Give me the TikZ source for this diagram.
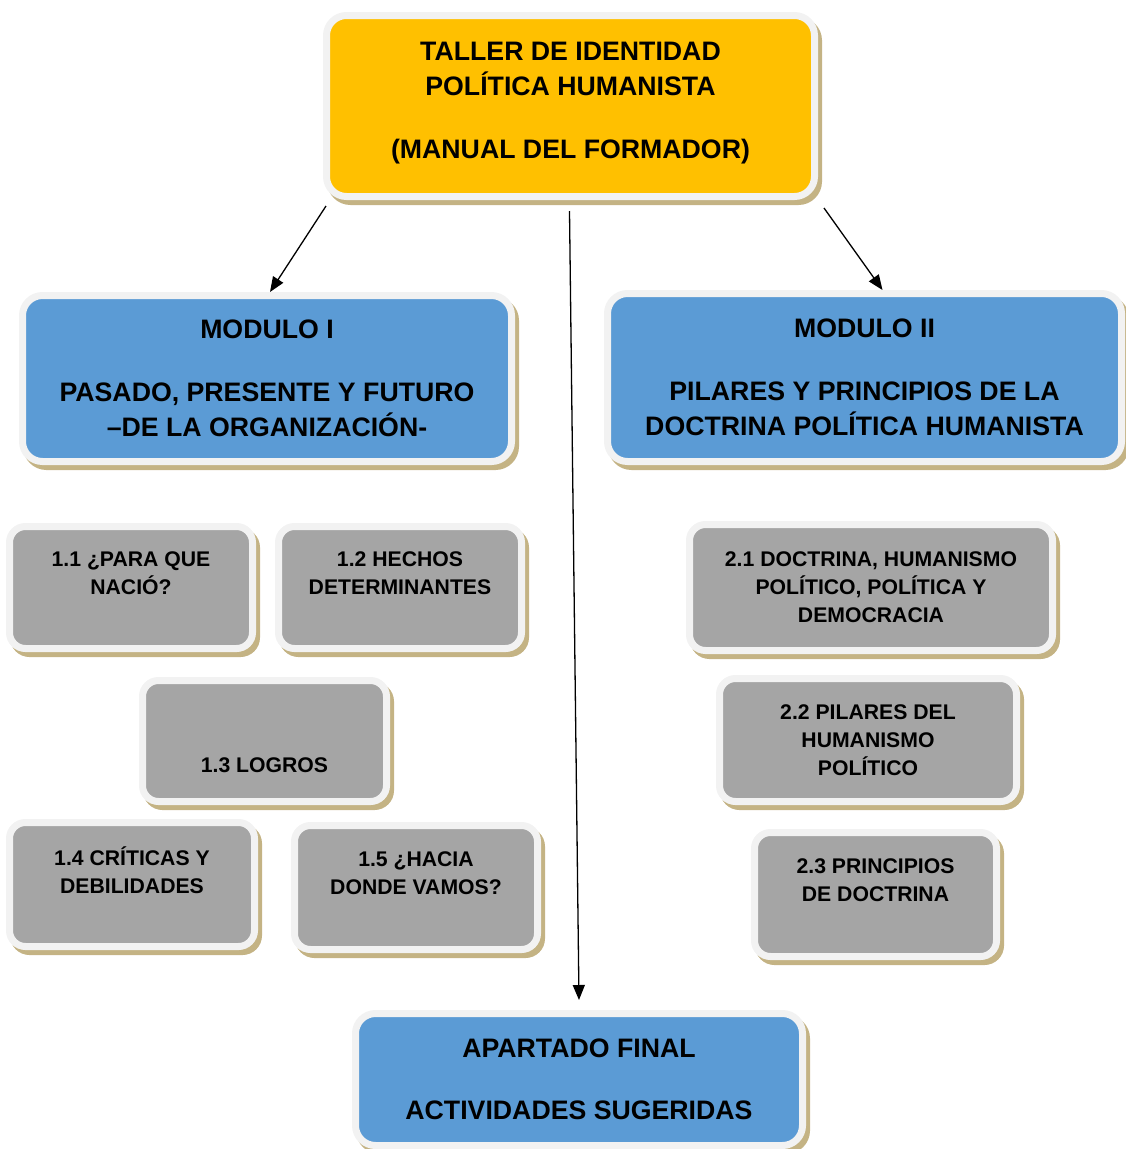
\documentclass[tikz,border=0pt]{standalone}
\usepackage{fontspec}
\setmainfont{Liberation Sans}
\usetikzlibrary{arrows.meta,shadows}

\definecolor{cardgold}{RGB}{255,192,0}
\definecolor{cardblue}{RGB}{91,155,213}
\definecolor{cardgray}{RGB}{165,165,165}
\definecolor{cardrim}{RGB}{242,242,242}
\definecolor{cardtan}{RGB}{196,179,132}

\begin{document}
\begin{tikzpicture}[
  x=1pt,
  y=-1pt,
  >=Triangle,
  card/.style={draw=cardrim, line width=7pt, rounded corners=20pt, align=center,
    drop shadow={shadow xshift=4pt, shadow yshift=-5pt, fill=cardtan, draw=cardtan, line width=7pt, opacity=1}},
  bigcard/.style={card, font=\fontsize{26.7}{35}\selectfont\bfseries},
  subcard/.style={card, fill=cardgray, rounded corners=16pt, font=\fontsize{21.2}{28}\selectfont\bfseries},
  arr/.style={->, line width=1.3pt, >={Triangle[length=15pt,width=12pt]}}
]
  \useasboundingbox (0,0) rectangle (1125,1149);

  \node[bigcard, fill=cardgold, minimum width=488pt, minimum height=181pt] (top) at (570.5,106)
    {TALLER DE IDENTIDAD\\POLÍTICA HUMANISTA\\[28pt](MANUAL DEL FORMADOR)\\[-24pt]\rule{0pt}{1pt}};

  \node[bigcard, fill=cardblue, minimum width=489pt, minimum height=166pt] (mod1) at (267,378.5)
    {MODULO I\\[28pt]PASADO, PRESENTE Y FUTURO\\–DE LA ORGANIZACIÓN-};
  \node[bigcard, fill=cardblue, minimum width=514pt, minimum height=168pt] (mod2) at (864.5,377.5)
    {MODULO II\\[28pt]PILARES Y PRINCIPIOS DE LA\\DOCTRINA POLÍTICA HUMANISTA};

  % modulo I
  \node[subcard, minimum width=243pt, minimum height=122pt] (s11) at (131,587.5)
    {1.1 ¿PARA QUE\\NACIÓ?\\\rule{0pt}{1pt}};
  \node[subcard, minimum width=243pt, minimum height=122pt] (s12) at (400,587.5)
    {1.2 HECHOS\\DETERMINANTES\\\rule{0pt}{1pt}};
  \node[subcard, minimum width=244pt, minimum height=121pt] (s13) at (264.5,741)
    {\strut\\[16pt]1.3 LOGROS};
  \node[subcard, minimum width=245pt, minimum height=124pt] (s14) at (132,884.5)
    {1.4 CRÍTICAS Y\\DEBILIDADES\\\rule{0pt}{1pt}};
  \node[subcard, minimum width=243pt, minimum height=124pt] (s15) at (416,887.5)
    {1.5 ¿HACIA\\DONDE VAMOS?\\\rule{0pt}{1pt}};

  % modulo II
  \node[subcard, minimum width=363pt, minimum height=126pt] (s21) at (871,587.5)
    {2.1 DOCTRINA, HUMANISMO\\POLÍTICO, POLÍTICA Y\\DEMOCRACIA};
  \node[subcard, minimum width=297pt, minimum height=123pt] (s22) at (868,740)
    {2.2 PILARES DEL\\HUMANISMO\\POLÍTICO};
  \node[subcard, minimum width=242pt, minimum height=124pt] (s23) at (875.5,894.5)
    {2.3 PRINCIPIOS\\DE DOCTRINA\\\rule{0pt}{1pt}};

  \node[bigcard, fill=cardblue, minimum width=447pt, minimum height=132pt] (fin) at (579,1079.5)
    {APARTADO FINAL\\[27pt]ACTIVIDADES SUGERIDAS};

  \draw[arr] ([xshift=3pt,yshift=-6pt]top.south west) -- ([xshift=3pt]mod1.north);
  \draw[arr] ([xshift=6pt,yshift=-8pt]top.south east) -- ([xshift=18pt]mod2.north);
  \draw[arr] ([xshift=-1pt,yshift=-11pt]top.south) -- ([yshift=10pt]fin.north);
\end{tikzpicture}
\end{document}
